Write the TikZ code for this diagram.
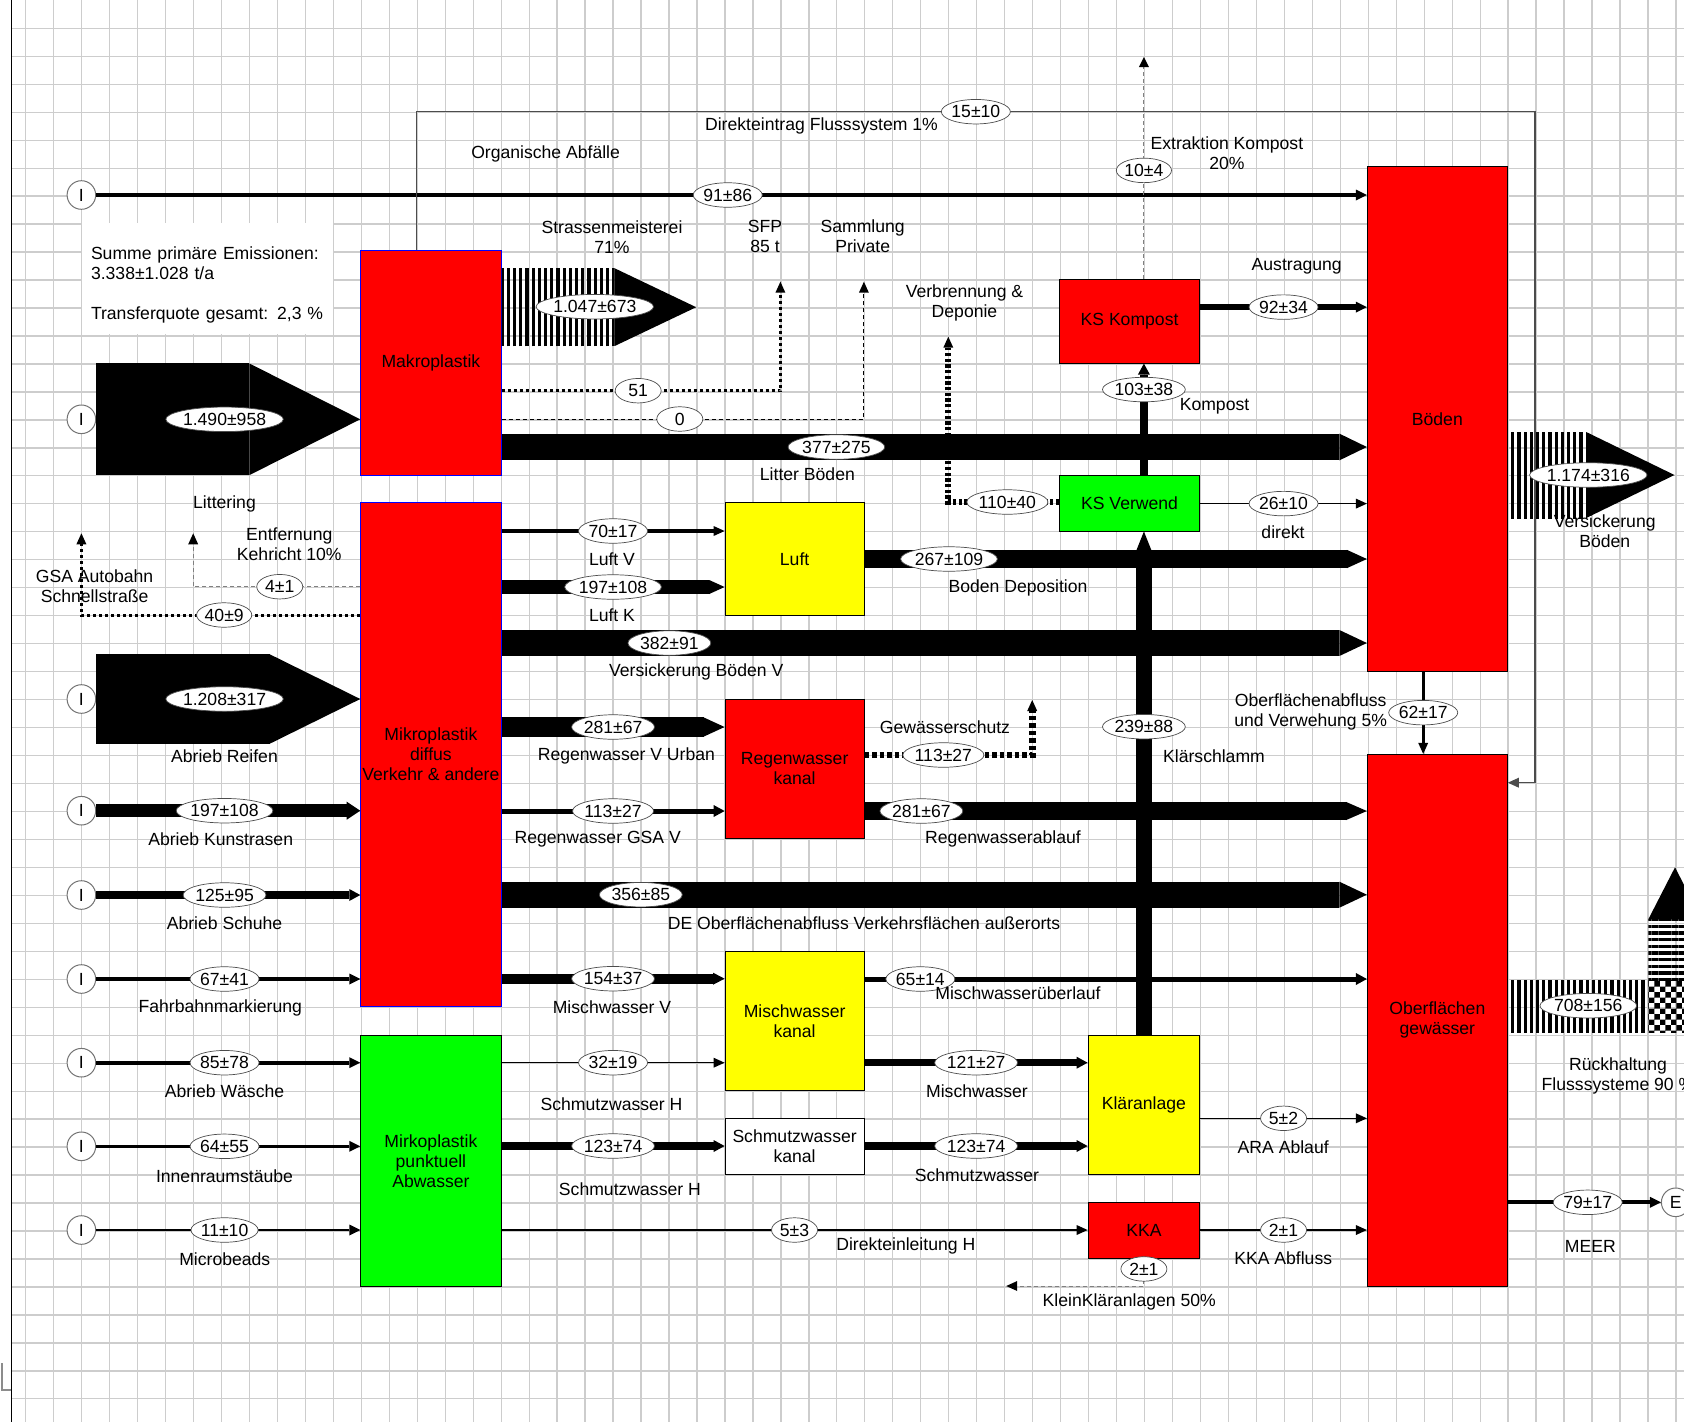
\documentclass[tikz,border=0pt]{standalone}
\usepackage{fontspec}
\setmainfont{Liberation Sans}
\usetikzlibrary{arrows.meta,positioning,calc,shapes.geometric,patterns,patterns.meta}

\definecolor{boxred}{RGB}{255,0,0}
\definecolor{boxyellow}{RGB}{255,255,0}
\definecolor{boxgreen}{RGB}{0,255,0}
\definecolor{gridgray}{RGB}{205,205,205}

\tikzset{
  gridline/.style={draw=gridgray, line width=1.3pt},
  box/.style={draw=black, line width=0.8pt, inner xsep=1pt, inner ysep=2pt, align=center},
  src/.style={circle, draw=black!55, fill=white, line width=1pt, minimum size=28.6pt, inner sep=0pt},
  val/.style={ellipse, solid, draw=black!70, fill=white, line width=0.7pt, inner xsep=0pt, inner ysep=0pt,
    minimum height=24.5pt, minimum width=46pt},
  txt/.style={align=center, inner sep=0pt},
  arr/.style={-{Triangle[length=11pt,width=#1,line width=0pt]}}, arr/.default=11pt,
  fat/.style 2 args={line width=#1, -{Triangle[length=#2,width=#1,line width=0pt]}},
  dotfat/.style={line width=3pt, dash pattern=on 3pt off 3pt},
  dotbold/.style={line width=6.7pt, dash pattern=on 4.5pt off 3pt},
  dashbold/.style={line width=6pt, dash pattern=on 3.3pt off 2.4pt},
  dashthin/.style={line width=1pt, dash pattern=on 4pt off 3pt},
  dashgray/.style={draw=black!50, line width=1pt, dash pattern=on 4pt off 3pt},
}

\begin{document}
\begin{tikzpicture}[x=1pt,y=-1pt,font=\fontsize{17.6}{20}\selectfont]
  \useasboundingbox (0,0) rectangle (1684,1422);
  \clip (0,0) rectangle (1684,1422);
  \fill[white] (0,0) rectangle (1684,1422);
  % grid paper
  \foreach \i in {0,...,59}
    \draw[gridline] ({25.7+27.97*\i},0) -- ++(0,1422);
  \foreach \j in {0,...,49}
    \draw[gridline] (11.8,{28.3+27.97*\j}) -- (1684,{28.3+27.97*\j});
  \draw[line width=1.3pt] (11.8,0) -- (11.8,1422);
  \draw[black!45, line width=2pt] (1.5,1363) -- (1.5,1390) -- (10.7,1390);

  % compartments
  \node[box, draw=blue, fill=boxred, minimum width=140.4pt, minimum height=224.3pt] (makro) at (430.9,362.85) {Makroplastik};
  \node[box, draw=blue, fill=boxred, minimum width=140.4pt, minimum height=503.3pt] (mikro) at (430.9,754.35) {Mikroplastik\\diffus\\Verkehr \& andere};
  \node[box, fill=boxgreen, minimum width=140.4pt, minimum height=250.3pt] (punkt) at (430.9,1160.85) {Mirkoplastik\\punktuell\\Abwasser};
  \node[box, fill=boxyellow, minimum width=139.2pt, minimum height=112.3pt] (luft) at (794.6,558.85) {Luft};
  \node[box, fill=boxred, minimum width=139.2pt, minimum height=139.3pt] (regen) at (794.6,768.65) {Regenwasser\\kanal};
  \node[box, fill=boxyellow, minimum width=139.2pt, minimum height=139.7pt] (misch) at (794.6,1020.85) {Mischwasser\\kanal};
  \node[box, fill=white, minimum width=139.2pt, minimum height=55.3pt] (schmutz) at (794.6,1146.35) {Schmutzwasser\\kanal};
  \node[box, fill=boxred, minimum width=140.5pt, minimum height=83.9pt] (kskomp) at (1129.55,321.25) {KS Kompost};
  \node[box, fill=boxgreen, minimum width=140.5pt, minimum height=55.7pt] (ksverw) at (1129.55,503.25) {KS Verwend};
  \node[box, fill=boxred, minimum width=140.1pt, minimum height=504.2pt] (boden) at (1437.35,418.9) {Böden};
  \node[box, fill=boxred, minimum width=140.1pt, minimum height=531.7pt] (ober) at (1437.35,1020.15) {Oberflächen\\gewässer};
  \node[box, fill=boxyellow, minimum width=111.8pt, minimum height=139pt] (klaer) at (1143.9,1104.5) {Kläranlage};
  \node[box, fill=boxred, minimum width=111.8pt, minimum height=56pt] (kka) at (1143.9,1230.7) {KKA};

  \fill[white] (82,223) rectangle (333,334);
  \node[text width=233pt, inner sep=0pt, align=left] (summe) at (207.5,284.5)
    {Summe primäre Emissionen:\\3.338±1.028 t/a\\[20pt]Transferquote gesamt: 2,3 \%};

  % sources
  \foreach \n/\y in {1/195,2/419.3,3/699,4/810.7,5/895,6/979,7/1062.7,8/1146.3,9/1230}
    \node[src] (in\n) at (81.4,\y) {I};
  \node[src] (meer) at (1675.7,1202.3) {E};

  \coordinate (sfp) at (780.4,281.7);
  \coordinate (priv) at (863.9,281.7);
  \coordinate (gsa) at (81.4,533.3);
  \coordinate (kehr) at (193.2,533.3);
  \coordinate (gws) at (1032.2,700);
  \coordinate (verb) at (948.3,336.7);
  \coordinate (extr) at (1143.9,57);
  \coordinate (kla) at (1006.2,1286);
  \coordinate (dk) at (1534.9,111.7);

  % primary emissions
  \draw[line width=4.7pt, arr] (in1) -- node[val, pos=0.497] {91±86} (boden.west |- in1);
  \draw[fat={111.7pt}{111pt}] (in2) -- node[val, pos=0.486] {1.490±958} (makro.west |- in2);
  \draw[fat={89.3pt}{90.4pt}] (in3) -- node[val, pos=0.486] {1.208±317} (mikro.west |- in3);
  \draw[line width=13.3pt, -{Triangle[length=13.6pt,width=18pt,line width=0pt]}] (in4) -- node[val, pos=0.486] {197±108} (mikro.west |- in4);
  \draw[line width=8pt, arr=12pt] (in5) -- node[val, pos=0.486] {125±95} (mikro.west |- in5);
  \draw[line width=4.3pt, arr] (in6) -- node[val, pos=0.486] {67±41} (mikro.west |- in6);
  \draw[line width=4pt, arr] (in7) -- node[val, pos=0.486] {85±78} (punkt.west |- in7);
  \draw[line width=3.3pt, arr] (in8) -- node[val, pos=0.486] {64±55} (punkt.west |- in8);
  \draw[line width=1.2pt, arr] (in9) -- node[val, pos=0.486] {11±10} (punkt.west |- in9);

  % Makroplastik
  \fill[pattern={Lines[angle=90,distance=6.2pt,line width=3.3pt]}] (makro.east |- 0,268.3) rectangle (614.7,346);
  \fill (614.7,268.3) -- (696.2,307.2) -- (614.7,346) -- cycle;
  \node[val] (v1047) at (594.8,306.7) {1.047±673};
  \draw[dotfat, arr=10pt] (makro.east |- 0,390.7) -| node[val, pos=0.245] {51} (sfp);
  \draw[dashthin, arr=10pt] (makro.east |- 0,419) -| node[val, pos=0.246] {0} (priv);
  \draw[fat={26.7pt}{27.5pt}] (makro.east |- 0,447) -- node[val, pos=0.387] {377±275} (boden.west |- 0,447);
  \draw[draw=black!70, line width=1.2pt, -{Triangle[length=11pt,width=10pt,line width=0pt]}]
    (makro.north -| 416.8,0) |- node[val, pos=0.75] {15±10} (dk) |- (ober.east |- 0,782.7);

  % Mikroplastik diffus
  \draw[line width=4pt, arr=10pt] (mikro.east |- 0,531) -- node[val] {70±17} (luft.west |- 0,531);
  \draw[fat={14pt}{15.4pt}] (mikro.east |- 0,587) -- node[val] {197±108} (luft.west |- 0,587);
  \draw[fat={26pt}{27.5pt}] (mikro.east |- 0,643) -- node[val, pos=0.194] {382±91} (boden.west |- 0,643);
  \draw[fat={19.3pt}{21pt}] (mikro.east |- 0,727) -- node[val] {281±67} (regen.west |- 0,727);
  \draw[line width=5pt, arr=12pt] (mikro.east |- 0,811) -- node[val] {113±27} (regen.west |- 0,811);
  \draw[fat={26pt}{27.5pt}] (mikro.east |- 0,894.7) -- node[val, pos=0.161] {356±85} (ober.west |- 0,894.7);
  \draw[line width=10pt, -{Triangle[length=11.5pt,width=12pt,line width=0pt]}] (mikro.east |- 0,978.7) -- node[val] {154±37} (misch.west |- 0,978.7);
  \draw[dotfat, arr=10pt] (mikro.west |- 0,615) -| node[val, pos=0.244] {40±9} (gsa);
  \draw[dashgray, -{Triangle[length=11pt,width=10pt,line width=0pt,color=black]}] (mikro.west |- 0,586.7) -| node[val, pos=0.241] {4±1} (kehr);

  % Mikroplastik punktuell
  \draw[line width=1.2pt, arr=10pt] (punkt.east |- 0,1062.7) -- node[val] {32±19} (misch.west |- 0,1062.7);
  \draw[line width=8.3pt, arr=12pt] (punkt.east |- 0,1146) -- node[val] {123±74} (schmutz.west |- 0,1146);
  \draw[line width=1.2pt, arr=10pt] (punkt.east |- 0,1230) -- node[val] {5±3} (kka.west |- 0,1230);

  % Luft, Kanaele, Klaeranlage
  \draw[fat={18.3pt}{20pt}] (luft.east |- 0,559) -- node[val, pos=0.168] {267±109} (boden.west |- 0,559);
  \draw[dotbold, arr=10pt] (regen.east |- 0,755) -| node[val, pos=0.235] {113±27} (gws);
  \draw[fat={18.3pt}{21pt}] (regen.east |- 0,811) -- node[val, pos=0.113] {281±67} (ober.west |- 0,811);
  \draw[line width=5pt, arr=12pt] (misch.east |- 0,979) -- node[val, pos=0.111] {65±14} (ober.west |- 0,979);
  \draw[line width=7.3pt, arr=12pt] (misch.east |- 0,1062.7) -- node[val] {121±27} (klaer.west |- 0,1062.7);
  \draw[line width=8.3pt, arr=12pt] (schmutz.east |- 0,1146) -- node[val] {123±74} (klaer.west |- 0,1146);
  \draw[fat={16pt}{20pt}] (klaer.north) -- node[val, pos=0.612] {239±88} (ksverw.south -| klaer.north);
  \draw[line width=1.2pt, arr=10pt] (klaer.east |- 0,1118.3) -- node[val] {5±2} (ober.west |- 0,1118.3);
  \draw[line width=1.2pt, arr=10pt] (kka.east |- 0,1230) -- node[val] {2±1} (ober.west |- 0,1230);
  \draw[dashgray, -{Triangle[length=11pt,width=10pt,line width=0pt,color=black]}] (kka.south) |- node[val, pos=0.183] {2±1} (kla);

  % Klaerschlamm
  \draw[line width=7.8pt, arr=12pt] (ksverw.north -| klaer.north) -- node[val, pos=0.767] {103±38} (kskomp.south -| klaer.north);
  \draw[line width=1.2pt, arr=10pt] (ksverw.east |- 0,503.6) -- node[val] {26±10} (boden.west |- 0,503.6);
  \draw[dashbold, arr=10pt] (ksverw.west |- 0,502) -| node[val, pos=0.233] {110±40} (verb);
  \draw[line width=5.7pt, arr] (kskomp.east |- 0,307.1) -- node[val] {92±34} (boden.west |- 0,307.1);
  \draw[dashgray, -{Triangle[length=10pt,width=10pt,line width=0pt,color=black]}] (kskomp.north -| klaer.north) -- node[val, pos=0.489] {10±4} (extr);

  % Boeden und Gewaesser
  \draw[line width=3pt, arr=10pt] (boden.south -| 1423.2,0) -- node[val] {62±17} (ober.north -| 1423.2,0);
  \fill[pattern={Lines[angle=90,distance=6.2pt,line width=3.3pt]}] (boden.east |- 0,432) rectangle (1586.2,518);
  \fill (1586.2,432) -- (1674.5,475) -- (1586.2,518) -- cycle;
  \node[val] (v1174) at (1588.3,475) {1.174±316};
  \fill[pattern={Lines[angle=90,distance=6.2pt,line width=3.3pt]}] (ober.east |- 0,980.7) rectangle (1648.3,1032.7);
  \fill[pattern=checkerboard] (1648.3,980.7) rectangle (1701.7,1032.7);
  \fill[pattern={Lines[angle=0,distance=6.7pt,line width=3.3pt]}] (1648.3,919.3) rectangle (1701.7,980.7);
  \fill (1648.3,919.3) -- (1675,867.3) -- (1701.7,919.3) -- cycle;
  \node[val] (v708) at (1588.3,1005.7) {708±156};
  \draw[line width=4pt, arr] (ober.east |- meer) -- node[val, pos=0.522] {79±17} (meer);

  % labels
  \node[txt] (torg) at (545.6,153.6) {Organische Abfälle};
  \node[txt] (tdir) at (821.5,126) {Direkteintrag Flusssystem 1\%};
  \node[txt] (tstr) at (612,236.7) {Strassenmeisterei\\71\%};
  \node[txt] (tsfp) at (765,236.7) {SFP\\85 t};
  \node[txt] (tsam) at (862.7,236.7) {Sammlung\\Private};
  \node[txt] (tverb) at (964.5,303.3) {Verbrennung \&\\Deponie};
  \node[txt] (textr) at (1226.9,152.9) {Extraktion Kompost\\20\%};
  \node[txt] (taus) at (1296.7,266) {Austragung};
  \node[txt] (tkom) at (1214.5,406) {Kompost};
  \node[txt] (tdk) at (1283,532.1) {direkt};
  \node[txt] (tlb) at (807.4,474) {Litter Böden};
  \node[txt] (tvsb) at (1604.7,530.7) {Versickerung\\Böden};
  \node[txt] (tlit) at (224.5,503.7) {Littering};
  \node[txt] (tkeh) at (289.3,544.7) {Entfernung\\Kehricht 10\%};
  \node[txt] (tgsa) at (94.6,586.3) {GSA Autobahn\\Schnellstraße};
  \node[txt] (treif) at (224.5,756) {Abrieb Reifen};
  \node[txt] (tkun) at (220.7,839.3) {Abrieb Kunstrasen};
  \node[txt] (tsch) at (224.5,923.3) {Abrieb Schuhe};
  \node[txt] (tfahr) at (220.3,1008.3) {Fahrbahnmarkierung};
  \node[txt] (twae) at (224.5,1091) {Abrieb Wäsche};
  \node[txt] (tinn) at (224.5,1175.7) {Innenraumstäube};
  \node[txt] (tmic) at (224.8,1258.7) {Microbeads};
  \node[txt] (tluv) at (612,559.3) {Luft V};
  \node[txt] (tluk) at (612,615) {Luft K};
  \node[txt] (tvbv) at (696.2,671.7) {Versickerung Böden V};
  \node[txt] (trvu) at (626.4,756) {Regenwasser V Urban};
  \node[txt] (trgsa) at (597.7,839.3) {Regenwasser GSA V};
  \node[txt] (tde) at (864,923.3) {DE Oberflächenabfluss Verkehrsflächen außerorts};
  \node[txt] (tmv) at (612,1007.3) {Mischwasser V};
  \node[txt] (tsh1) at (611.5,1104.3) {Schmutzwasser H};
  \node[txt] (tsh2) at (629.9,1189) {Schmutzwasser H};
  \node[txt] (tdeh) at (905.8,1246) {Direkteinleitung H};
  \node[txt] (tbd) at (1018,588) {Boden Deposition};
  \node[txt] (tgws) at (945,727.3) {Gewässerschutz};
  \node[txt] (trwa) at (1003,839) {Regenwasserablauf};
  \node[txt] (tmwu) at (1018,993.4) {Mischwasserüberlauf};
  \node[txt] (tmw) at (977,1091) {Mischwasser};
  \node[txt] (tsw) at (977,1175) {Schmutzwasser};
  \node[txt] (tks) at (1214,756) {Klärschlamm};
  \node[txt] (tobv) at (1310.7,712.2) {Oberflächenabfluss\\und Verwehung 5\%};
  \node[txt] (tara) at (1283.2,1146.7) {ARA Ablauf};
  \node[txt] (tkka) at (1283.2,1258.3) {KKA Abfluss};
  \node[txt] (tkkl) at (1129.3,1301.7) {KleinKläranlagen 50\%};
  \node[txt] (tmeer) at (1590.3,1246) {MEER};
  \node[txt] (truck) at (1618,1075.8) {Rückhaltung\\Flusssysteme 90 \%};
\end{tikzpicture}
\end{document}
